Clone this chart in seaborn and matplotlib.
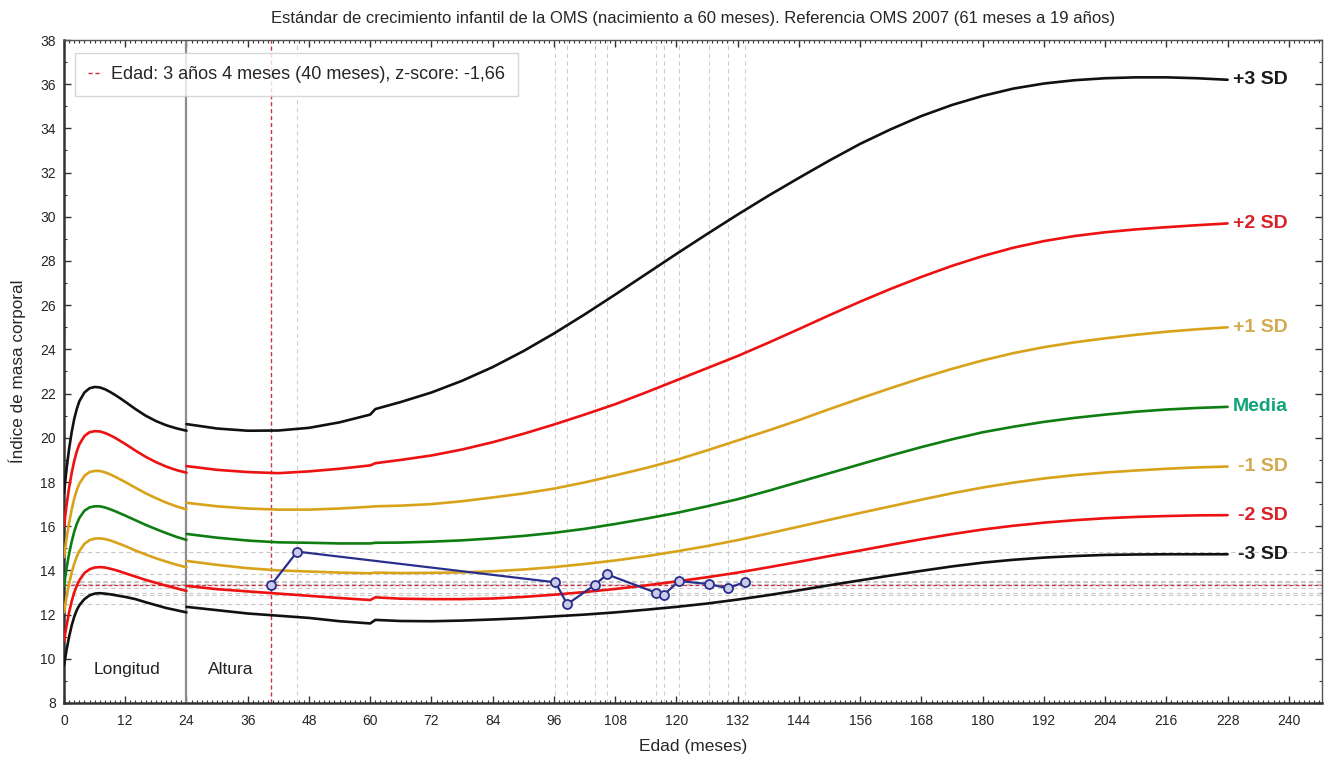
import numpy as np
import pandas as pd
import matplotlib
matplotlib.use("Agg")
import matplotlib.pyplot as plt
import matplotlib.font_manager as fm
from matplotlib.ticker import MultipleLocator
from matplotlib.lines import Line2D
import seaborn as sns

# --- Curvas OMS (IMC para la edad, niñas) ---
curvas = ["-3 SD", "-2 SD", "-1 SD", "Media", "+1 SD", "+2 SD", "+3 SD"]

# 0-24 meses (longitud)
edad_long = [0, 0.5, 1, 1.5, 2, 2.5, 3, 4, 5, 6, 7, 8, 9, 10, 11, 12, 14, 16, 18, 20, 22, 24]
long_m3 = [9.7, 10.4, 11.0, 11.5, 11.9, 12.2, 12.42, 12.7, 12.87, 12.95, 12.97, 12.95, 12.92, 12.88, 12.84, 12.8,
           12.7, 12.56, 12.43, 12.3, 12.2, 12.1]
long_m2 = [10.8, 11.5, 12.1, 12.6, 13.0, 13.3, 13.55, 13.88, 14.05, 14.13, 14.15, 14.13, 14.08, 14.02, 13.95, 13.87,
           13.72, 13.57, 13.44, 13.31, 13.19, 13.07]
long_m1 = [12.1, 12.8, 13.4, 13.9, 14.3, 14.62, 14.87, 15.2, 15.37, 15.44, 15.45, 15.42, 15.36, 15.28, 15.19, 15.1,
           14.9, 14.72, 14.55, 14.4, 14.26, 14.14]
long_med = [13.3, 14.1, 14.75, 15.3, 15.75, 16.1, 16.37, 16.7, 16.85, 16.9, 16.9, 16.85, 16.77, 16.68, 16.58, 16.48,
            16.27, 16.06, 15.87, 15.69, 15.52, 15.38]
long_p1 = [14.6, 15.45, 16.15, 16.75, 17.25, 17.63, 17.92, 18.28, 18.45, 18.5, 18.5, 18.44, 18.35, 18.24, 18.12, 18.0,
           17.74, 17.49, 17.27, 17.07, 16.9, 16.76]
long_p2 = [16.0, 16.95, 17.75, 18.4, 18.95, 19.38, 19.7, 20.08, 20.25, 20.3, 20.29, 20.22, 20.12, 20.0, 19.86, 19.72,
           19.42, 19.14, 18.9, 18.7, 18.54, 18.42]
long_p3 = [17.5, 18.6, 19.5, 20.25, 20.85, 21.3, 21.65, 22.05, 22.24, 22.3, 22.28, 22.2, 22.08, 21.94, 21.79, 21.63,
           21.3, 21.0, 20.76, 20.57, 20.43, 20.32]

# 24-228 meses (altura 24-60 + referencia 2007 desde 61)
edad_alt = [24, 30, 36, 42, 48, 54, 60,
            61, 66, 72, 78, 84, 90, 96, 102, 108, 114, 120, 126, 132, 138, 144,
            150, 156, 162, 168, 174, 180, 186, 192, 198, 204, 210, 216, 222, 228]
alt_m3 = [12.35, 12.2, 12.05, 11.95, 11.85, 11.7, 11.6,
          11.76, 11.71, 11.7, 11.73, 11.78, 11.84, 11.92, 12.0, 12.1, 12.22, 12.35, 12.5, 12.68, 12.88, 13.1,
          13.33, 13.55, 13.77, 13.98, 14.18, 14.35, 14.48, 14.58, 14.65, 14.7, 14.72, 14.73, 14.73, 14.73]
alt_m2 = [13.3, 13.15, 13.05, 12.95, 12.85, 12.75, 12.66,
          12.78, 12.72, 12.7, 12.7, 12.73, 12.8, 12.9, 13.02, 13.16, 13.32, 13.5, 13.69, 13.9, 14.14, 14.39,
          14.65, 14.9, 15.16, 15.41, 15.64, 15.85, 16.02, 16.16, 16.27, 16.36, 16.42, 16.46, 16.49, 16.5]
alt_m1 = [14.43, 14.25, 14.1, 14.0, 13.95, 13.9, 13.87,
          13.9, 13.88, 13.89, 13.91, 13.96, 14.04, 14.15, 14.29, 14.45, 14.64, 14.86, 15.1, 15.37, 15.67, 15.98,
          16.29, 16.6, 16.9, 17.2, 17.49, 17.75, 17.97, 18.16, 18.31, 18.43, 18.52, 18.6, 18.66, 18.7]
alt_med = [15.65, 15.48, 15.35, 15.27, 15.25, 15.22, 15.22,
           15.25, 15.26, 15.3, 15.36, 15.45, 15.56, 15.7, 15.88, 16.1, 16.34, 16.6, 16.9, 17.22, 17.6, 18.0,
           18.4, 18.8, 19.2, 19.58, 19.93, 20.25, 20.5, 20.72, 20.9, 21.05, 21.18, 21.28, 21.35, 21.4]
alt_p1 = [17.06, 16.9, 16.8, 16.75, 16.75, 16.8, 16.88,
          16.9, 16.93, 17.0, 17.13, 17.3, 17.48, 17.7, 17.98, 18.3, 18.63, 19.0, 19.43, 19.88, 20.33, 20.8,
          21.3, 21.78, 22.25, 22.7, 23.12, 23.5, 23.83, 24.1, 24.32, 24.5, 24.66, 24.8, 24.91, 25.0]
alt_p2 = [18.72, 18.55, 18.45, 18.4, 18.48, 18.6, 18.75,
          18.85, 19.0, 19.2, 19.47, 19.8, 20.18, 20.6, 21.05, 21.52, 22.05, 22.6, 23.15, 23.7, 24.3, 24.92,
          25.55, 26.16, 26.74, 27.28, 27.78, 28.22, 28.6, 28.9, 29.13, 29.3, 29.43, 29.53, 29.62, 29.7]
alt_p3 = [20.62, 20.42, 20.32, 20.33, 20.45, 20.7, 21.05,
          21.3, 21.62, 22.05, 22.58, 23.2, 23.92, 24.72, 25.58, 26.48, 27.4, 28.32, 29.22, 30.1, 30.95, 31.76,
          32.55, 33.3, 33.96, 34.56, 35.06, 35.47, 35.8, 36.03, 36.18, 36.27, 36.31, 36.31, 36.27, 36.2]

# --- Paciente ---
edad_pac = [40.6, 45.7, 96.3, 98.6, 104.0, 106.4, 116.0, 117.5, 120.5, 126.4, 130.1, 133.5]
imc_pac = [13.34, 14.85, 13.46, 12.47, 13.34, 13.82, 12.99, 12.89, 13.52, 13.38, 13.19, 13.49]

titulo = "Estándar de crecimiento infantil de la OMS (nacimiento a 60 meses). Referencia OMS 2007 (61 meses a 19 años)"
texto_leyenda = "Edad: 3 años 4 meses (40 meses), z-score: -1,66"

# --- Estilo ---
sns.set_style("ticks")
nombres = {f.name for f in fm.fontManager.ttflist}
fuente = "Liberation Sans" if "Liberation Sans" in nombres else "DejaVu Sans"
plt.rcParams["font.family"] = [fuente, "DejaVu Sans"]

colores_linea = {"-3 SD": "#111111", "-2 SD": "#ee1111", "-1 SD": "#d9a21b", "Media": "#0f7d12",
                 "+1 SD": "#d9a21b", "+2 SD": "#ee1111", "+3 SD": "#111111"}
colores_texto = {"-3 SD": "#1a1a1a", "-2 SD": "#d92228", "-1 SD": "#d4aa50", "Media": "#12a37a",
                 "+1 SD": "#d4aa50", "+2 SD": "#d92228", "+3 SD": "#1a1a1a"}

def tabla(edades, series):
    filas = []
    for nombre, valores in zip(curvas, series):
        for e, v in zip(edades, valores):
            filas.append({"edad": e, "imc": v, "curva": nombre})
    return pd.DataFrame(filas)

df_long = tabla(edad_long, [long_m3, long_m2, long_m1, long_med, long_p1, long_p2, long_p3])
df_alt = tabla(edad_alt, [alt_m3, alt_m2, alt_m1, alt_med, alt_p1, alt_p2, alt_p3])

fig = plt.figure(figsize=(13.24, 7.59), dpi=100)
ax = fig.add_axes([64 / 1324, 56 / 759, 1258 / 1324, 663 / 759])

# lineas guia del paciente
for e in edad_pac[1:]:
    ax.axvline(e, color="#cfcfcf", lw=0.8, ls=(0, (4, 3)), zorder=1)
for v in imc_pac:
    ax.axhline(v, color="#c8c8c8", lw=0.8, ls=(0, (4, 3)), zorder=1)
ax.axhline(imc_pac[0], color="#d03040", lw=0.9, ls=(0, (3, 2)), zorder=1)
ax.axvline(edad_pac[0], color="#d03040", lw=1.0, ls=(0, (3, 2)), zorder=2)
ax.axvline(24, color="#8c8c8c", lw=1.6, zorder=2)

for df in (df_long, df_alt):
    sns.lineplot(data=df, x="edad", y="imc", hue="curva", palette=colores_linea,
                 estimator=None, sort=False, lw=1.9, legend=False, ax=ax, zorder=3)

sns.lineplot(x=edad_pac, y=imc_pac, color="#2b2f8c", lw=1.6, marker="o", markersize=6.5,
             markerfacecolor="#c9cbe8", markeredgecolor="#2b2f8c", markeredgewidth=1.3,
             estimator=None, sort=False, ax=ax, zorder=5)

# etiquetas de las curvas
finales = [alt_m3[-1], alt_m2[-1], alt_m1[-1], alt_med[-1], alt_p1[-1], alt_p2[-1], alt_p3[-1]]
for nombre, v in zip(curvas, finales):
    x_txt = 230.0 if nombre.startswith("-") else 229.0
    ax.text(x_txt, v, nombre, color=colores_texto[nombre], fontsize=14, fontweight="bold",
            ha="left", va="center", zorder=6)

ax.text(12.4, 9.5, "Longitud", fontsize=12.5, ha="center", va="center", color="#222222")
ax.text(32.7, 9.5, "Altura", fontsize=12.5, ha="center", va="center", color="#222222")

ax.set_xlim(0, 246.5)
ax.set_ylim(8, 38)
ax.xaxis.set_major_locator(MultipleLocator(12))
ax.xaxis.set_minor_locator(MultipleLocator(1))
ax.yaxis.set_major_locator(MultipleLocator(2))
ax.yaxis.set_minor_locator(MultipleLocator(1))
ax.tick_params(which="both", direction="in", top=True, right=True, color="#333333")
ax.tick_params(which="major", length=5, width=1.0, labelsize=10)
ax.tick_params(which="minor", length=2.5, width=0.8)
ax.tick_params(axis="x", which="major", pad=8)
ax.tick_params(axis="y", which="major", pad=6)

for lado in ("left", "bottom"):
    ax.spines[lado].set_linewidth(1.8)
    ax.spines[lado].set_color("#333333")
for lado in ("top", "right"):
    ax.spines[lado].set_visible(True)
    ax.spines[lado].set_linewidth(1.0)
    ax.spines[lado].set_color("#555555")

ax.set_xlabel("Edad (meses)", fontsize=12.5, labelpad=8)
ax.set_ylabel("Índice de masa corporal", fontsize=12.3, labelpad=10)
ax.set_title(titulo, fontsize=12, pad=12)

mango = Line2D([0], [0], color="#d03040", lw=1.0, ls=(0, (3, 2)))
ax.legend([mango], [texto_leyenda], loc="upper left", fontsize=13, frameon=True,
          fancybox=False, edgecolor="#cccccc", handlelength=0.8, handletextpad=0.5,
          borderpad=0.7, borderaxespad=0, bbox_to_anchor=(0.0087, 0.98))

fig.savefig("out.png", dpi=100)
